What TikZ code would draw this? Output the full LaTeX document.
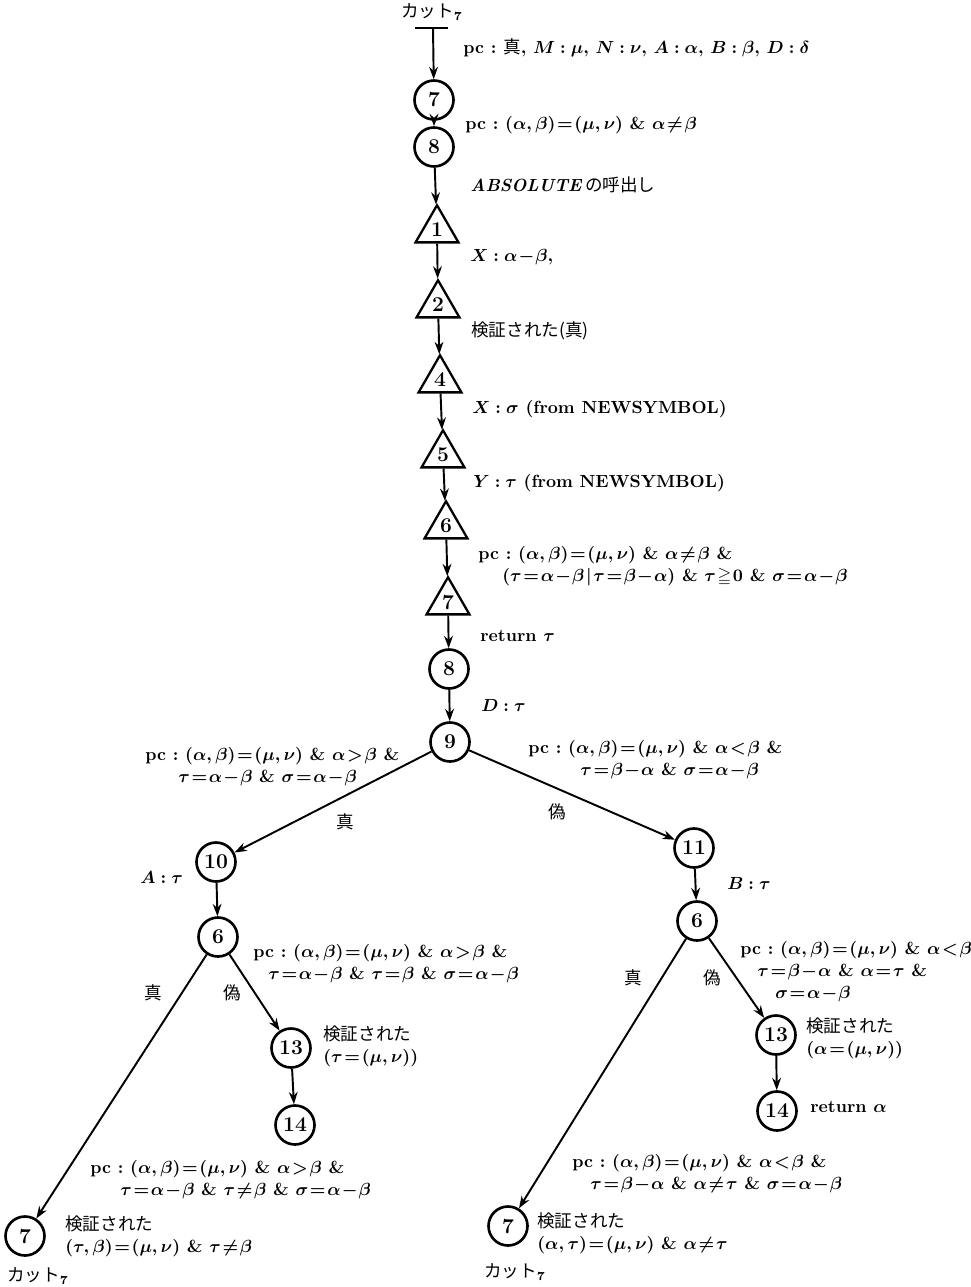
\documentclass[tikz,border=0pt]{standalone}
\usepackage{amssymb}
\usepackage{fontspec}
\newfontfamily\jpf{Noto Sans CJK JP}
\usetikzlibrary{arrows.meta,shapes.geometric}

\newcommand{\jp}{\jpf\mdseries}
\newcommand{\cut}{{\jp カット}$_7$}
\newcommand{\cl}{\mathrel{\,:\,}}
\newcommand{\pcab}{pc\ :\ $(\alpha,\beta)=(\mu,\nu)$}
\thickmuskip=1.5mu
\medmuskip=1mu

\begin{document}
\begin{tikzpicture}[x=0.02cm,y=-0.02cm,
  every node/.style={font=\fontsize{10}{12.5}\selectfont\bfseries\boldmath},
  st/.style={circle,draw,line width=1.5pt,minimum size=0.78cm,inner sep=0pt,font=\fontsize{12}{13}\selectfont\bfseries},
  tri/.style={regular polygon,regular polygon sides=3,draw,line width=1.3pt,minimum size=0.99cm,inner sep=0pt,font=\fontsize{12}{13}\selectfont\bfseries},
  lbl/.style={anchor=west,align=left,inner sep=0pt},
  arr/.style={line width=1.1pt,-{Stealth[length=7pt,width=5pt]}}]
\useasboundingbox (0,0) rectangle (970,1287);

% main column
\coordinate (cutin) at (433,28);
\node (cuttop) at (432,12) {\cut};
\node[st] (c7) at (434,100) {7};
\node[st] (c8) at (434,147) {8};
\foreach \n/\x/\y in {1/437/230,2/438/305,4/440/380,5/443/455,6/446/526,7/448/602}
  \node[tri] (tri\n) at (\x,\y) {\n};
\node[st] (c8b) at (449,669) {8};
\node[st] (c9) at (450,742) {9};

% branches
\node[st] (c10) at (216,862) {10};
\node[st] (c11) at (694,848) {11};
\node[st] (c6l) at (218,937) {6};
\node[st] (c6r) at (697,921) {6};
\node[st] (c13l) at (291,1048) {13};
\node[st] (c14l) at (295,1125) {14};
\node[st] (c13r) at (776,1035) {13};
\node[st] (c14r) at (777,1111) {14};
\node[st] (c7l) at (25,1236) {7};
\node[st] (c7r) at (508,1226) {7};

\draw[line width=1.3pt] (415,28) -- (448,28);
\draw[arr] (cutin) -- (c7);
\foreach \a/\b in {c7/c8,c8/tri1,tri1/tri2,tri2/tri4,tri4/tri5,tri5/tri6,tri6/tri7,tri7/c8b,c8b/c9,
  c9/c10,c9/c11,c10/c6l,c11/c6r,c6l/c7l,c6l/c13l,c13l/c14l,c6r/c7r,c6r/c13r,c13r/c14r}
  \draw[arr] (\a) -- (\b);

% labels
\node[lbl] (l1) at (463,48) {pc\ :\ {\jp 真}, $M\cl\mu$, $N\cl\nu$, $A\cl\alpha$, $B\cl\beta$, $D\cl\delta$};
\node[lbl] (l2) at (465,125) {\pcab{} \& $\alpha\neq\beta$};
\node[lbl] (l3) at (470,185) {\textit{ABSOLUTE}\,{\jp の呼出し}};
\node[lbl] (l4) at (470,257) {$X\cl\alpha-\beta$,};
\node[lbl] (l5) at (471,331) {{\jp 検証された(真)}};
\node[lbl] (l6) at (472,409) {$X\cl\sigma$ (from NEWSYMBOL)};
\node[lbl] (l7) at (473,483) {$Y\cl\tau$ (from NEWSYMBOL)};
\node[lbl] (l8) at (478,566) {\pcab{} \& $\alpha\neq\beta$ \&\\
  \hspace{0.48cm}$(\tau=\alpha-\beta\mid\tau=\beta-\alpha)$ \& $\tau\geqq0$ \& $\sigma=\alpha-\beta$};
\node[lbl] (l9) at (480,636) {return $\tau$};
\node[lbl] (l10) at (481,705) {$D\cl\tau$};
\node[lbl] (l11) at (145,767) {\pcab{} \& $\alpha>\beta$ \&\\
  \hspace{0.66cm}$\tau=\alpha-\beta$ \& $\sigma=\alpha-\beta$};
\node[lbl] (l12) at (528,760) {\pcab{} \& $\alpha<\beta$ \&\\
  \hspace{1.04cm}$\tau=\beta-\alpha$ \& $\sigma=\alpha-\beta$};
\node (t1) at (345,822) {\jp 真};
\node (f1) at (557,812) {\jp 偽};
\node[lbl] (l13) at (140,877) {$A\cl\tau$};
\node[lbl] (l14) at (727,883) {$B\cl\tau$};
\node[lbl] (l15) at (253,964) {\pcab{} \& $\alpha>\beta$ \&\\
  \hspace{0.3cm}$\tau=\alpha-\beta$ \& $\tau=\beta$ \& $\sigma=\alpha-\beta$};
\node (t2) at (153,993) {\jp 真};
\node (f2) at (232,993) {\jp 偽};
\node[lbl] (l16) at (323,1046) {{\jp 検証された}\\$(\tau=(\mu,\nu))$};
\node[lbl] (l17) at (740,972) {\pcab{} \& $\alpha<\beta$\\
  \hspace{0.34cm}$\tau=\beta-\alpha$ \& $\alpha=\tau$ \&\\
  \hspace{0.7cm}$\sigma=\alpha-\beta$};
\node (t3) at (633,978) {\jp 真};
\node (f3) at (712,978) {\jp 偽};
\node[lbl] (l18) at (806,1038) {{\jp 検証された}\\$(\alpha=(\mu,\nu))$};
\node[lbl] (l19) at (810,1107) {return $\alpha$};
\node[lbl] (l20) at (90,1180) {\pcab{} \& $\alpha>\beta$ \&\\
  \hspace{0.6cm}$\tau=\alpha-\beta$ \& $\tau\neq\beta$ \& $\sigma=\alpha-\beta$};
\node[lbl] (l21) at (65,1236) {{\jp 検証された}\\$(\tau,\beta)=(\mu,\nu)$ \& $\tau\neq\beta$};
\node (cutl) at (38,1276) {\cut};
\node[lbl] (l22) at (572,1174) {\pcab{} \& $\alpha<\beta$ \&\\
  \hspace{0.36cm}$\tau=\beta-\alpha$ \& $\alpha\neq\tau$ \& $\sigma=\alpha-\beta$};
\node[lbl] (l23) at (537,1233) {{\jp 検証された}\\$(\alpha,\tau)=(\mu,\nu)$ \& $\alpha\neq\tau$};
\node (cutr) at (515,1272) {\cut};
\end{tikzpicture}
\end{document}
